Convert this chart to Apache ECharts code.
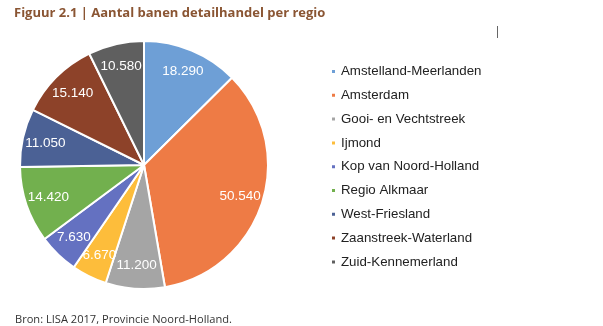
<!DOCTYPE html>
<html><head><meta charset="utf-8">
<script src="https://cdn.jsdelivr.net/npm/echarts@6/dist/echarts.min.js"></script>
<style>html,body{margin:0;padding:0;background:#fff}#c{width:603px;height:326px}</style>
</head><body><div id="c"></div>
<script>
const categories = ["Amstelland-Meerlanden","Amsterdam","Gooi- en Vechtstreek","Ijmond","Kop van Noord-Holland","Regio Alkmaar","West-Friesland","Zaanstreek-Waterland","Zuid-Kennemerland"];
const values = [18290, 50540, 11200, 6670, 7630, 14420, 11050, 15140, 10580];
const colors = ["#6E9FD6","#EE7B45","#A5A5A5","#FDBD3B","#6471C1","#72B04E","#4B6195","#8D4229","#5F5F5F"];
const titleText = "Figuur 2.1 | Aantal banen detailhandel per regio";
const sourceText = "Bron: LISA 2017, Provincie Noord-Holland.";

const fmt = v => String(v).replace(/\B(?=(\d{3})+(?!\d))/g, ".");
const data = categories.map((n, i) => ({ name: n, value: values[i], itemStyle: { color: colors[i] } }));
const chart = echarts.init(document.getElementById('c'), null, { renderer: 'canvas' });
chart.setOption({
  animation: false,
  title: [
    { text: titleText, left: 9, top: 2, textStyle: { fontFamily: 'Open Sans', fontWeight: 'bold', fontSize: 13, color: '#8A5533' } },
    { text: sourceText, left: 10, top: 309, textStyle: { fontFamily: 'Open Sans', fontWeight: 'normal', fontSize: 11.1, color: '#333' } }
  ],
  legend: {
    orient: 'vertical', left: 325, top: 60,
    itemWidth: 5, itemHeight: 5, itemGap: 10.8, icon: 'rect',
    data: categories,
    textStyle: { fontFamily: 'Liberation Sans', fontSize: 13.3, color: '#222' }
  },
  series: [
    {
      type: 'pie', center: [144, 165], radius: [0, 124], startAngle: 90, clockwise: true,
      itemStyle: { borderColor: '#fff', borderWidth: 2 },
      label: { show: false }, labelLine: { show: false },
      data: data, silent: true
    },
    {
      type: 'pie', center: [144, 165], radius: [72, 124], startAngle: 90, clockwise: true,
      itemStyle: { color: 'rgba(0,0,0,0)', borderWidth: 0 },
      label: { show: true, position: 'inside', color: '#fff', fontFamily: 'Liberation Sans', fontSize: 13.5,
               formatter: p => fmt(p.value) },
      labelLayout: { hideOverlap: false },
      labelLine: { show: false }, silent: true,
      data: categories.map((n, i) => ({ name: n, value: values[i] }))
    }
  ],
  graphic: [
    { type: 'line', shape: { x1: 497.5, y1: 26, x2: 497.5, y2: 38 }, style: { stroke: '#666', lineWidth: 1 } }
  ]
});
</script></body></html>
